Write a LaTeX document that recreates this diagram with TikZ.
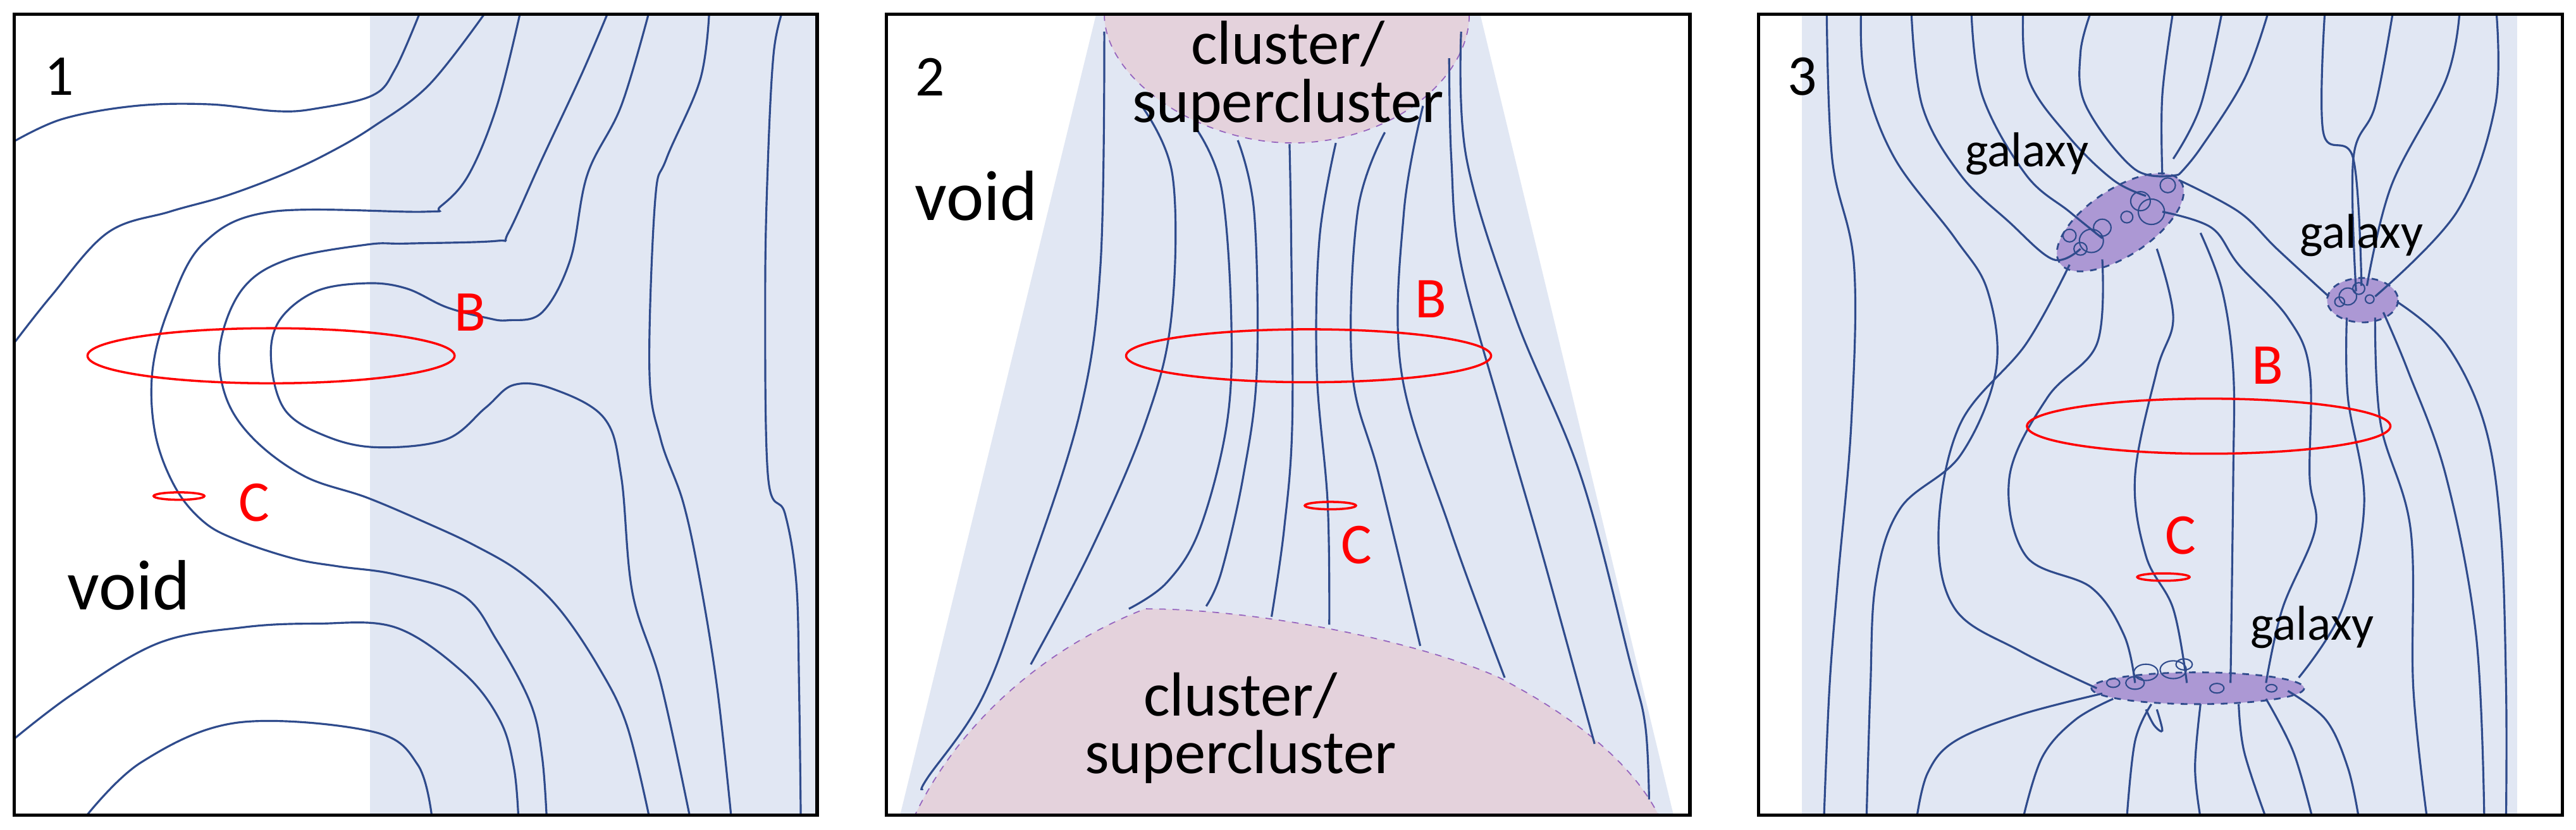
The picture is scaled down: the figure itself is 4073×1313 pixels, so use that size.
\documentclass[tikz,border=0pt]{standalone}
\usepackage{fontspec}
\setmainfont{Carlito}
\begin{document}
\begin{tikzpicture}[x=0.01cm,y=-0.01cm,
  fl/.style={draw=lineblue,line width=0.9pt},
  ring/.style={draw=red,line width=1pt},
  frame/.style={draw=black,line width=1.5pt},
  num/.style={font=\fontsize{26}{28}\selectfont},
  lab/.style={font=\fontsize{26}{28}\selectfont,text=red},
  big/.style={font=\fontsize{32}{34}\selectfont},
  clus/.style={font=\fontsize{28}{26}\selectfont,align=center},
  gal/.style={font=\fontsize{22}{24}\selectfont},
  cl/.style={fill=clusterpink,draw=dashpurple,dashed,line width=0.5pt},
  gx/.style={fill=galpurple,draw=lineblue,dashed,line width=0.8pt},
  tg/.style={draw=lineblue,line width=0.6pt}]
\definecolor{lineblue}{RGB}{47,75,140}
\definecolor{bgshade}{RGB}{225,231,243}
\definecolor{clusterpink}{RGB}{228,210,220}
\definecolor{dashpurple}{RGB}{150,100,190}
\definecolor{galpurple}{RGB}{172,152,212}
\useasboundingbox (0,0) rectangle (4073,1313);
\fill[white] (0,0) rectangle (4073,1313);
% ---------- panel 1
\begin{scope}[xscale=0.8929,yscale=0.8375]
\begin{scope}
\clip (25,27) rectangle (1447,1540);
\fill[bgshade] (655,27) rectangle (1447,1540);
\draw[fl] plot[smooth,tension=0.6] coordinates {(20,270)(110,225)(240,200)(370,197)(490,210)(560,205)(660,180)(700,130)(745,20)};
\draw[fl] plot[smooth,tension=0.6] coordinates {(20,655)(90,560)(190,440)(300,400)(400,370)(500,330)(580,290)(660,240)(760,160)(862,20)};
\draw[fl] plot[smooth,tension=0.6] coordinates {(922,20)(880,200)(830,330)(780,390)(750,400)(480,400)(360,460)(300,580)(270,700)(275,820)(310,920)(360,985)(420,1020)(520,1055)(600,1070)(700,1085)(820,1125)(880,1210)(940,1330)(960,1430)(968,1545)};
\draw[fl] plot[smooth,tension=0.6] coordinates {(1078,20)(1030,140)(960,300)(900,440)(880,455)(720,460)(650,462)(510,490)(430,545)(390,650)(400,750)(450,830)(540,900)(650,940)(760,990)(840,1030)(920,1080)(990,1150)(1060,1260)(1110,1370)(1150,1545)};
\draw[fl] plot[smooth,tension=0.6] coordinates {(1150,20)(1100,200)(1040,330)(1010,490)(960,590)(900,605)(860,600)(790,580)(720,545)(650,535)(560,550)(495,605)(480,680)(505,775)(580,825)(670,845)(790,830)(860,770)(910,727)(980,735)(1070,790)(1100,900)(1120,1120)(1170,1290)(1222,1545)};
\draw[fl] plot[smooth,tension=0.6] coordinates {(1256,20)(1240,150)(1180,300)(1160,380)(1150,700)(1170,830)(1210,950)(1240,1100)(1270,1300)(1295,1545)};
\draw[fl] plot[smooth,tension=0.6] coordinates {(1386,20)(1370,100)(1360,300)(1355,550)(1360,900)(1390,970)(1410,1100)(1415,1300)(1418,1545)};
\draw[fl] plot[smooth,tension=0.6] coordinates {(20,1400)(130,1310)(280,1215)(430,1185)(560,1178)(700,1185)(820,1270)(885,1360)(910,1450)(918,1545)};
\draw[fl] plot[smooth,tension=0.6] coordinates {(150,1545)(250,1440)(420,1365)(660,1382)(740,1445)(765,1545)};
\end{scope}
\draw[ring] (480,672) ellipse [x radius=325,y radius=52];
\draw[ring] (317,937) ellipse [x radius=45,y radius=7];
\node[lab] (B1) at (833,590) {B};
\node[lab] (C1) at (450,950) {C};
\node[big] (V1) at (228,1105) {void};
\node[num] (N1) at (105,145) {1};
\draw[frame] (25,27) rectangle (1447,1540);
\end{scope}
% ---------- panel 2
\begin{scope}[shift={(1380,0)},xscale=0.8613,yscale=0.8375]
\begin{scope}
\clip (25,27) rectangle (1500,1540);
\fill[bgshade] (410,27) -- (1115,27) -- (1470,1540) -- (50,1540) -- cycle;
\path[cl] (425,27) .. controls (425,150) and (600,270) .. (770,270) .. controls (950,270) and (1095,150) .. (1095,27);
\path[cl] (75,1545) .. controls (150,1380) and (300,1230) .. (500,1150) .. controls (700,1150) and (1000,1210) .. (1150,1280) .. controls (1300,1360) and (1400,1450) .. (1445,1545);
\draw[fl] plot[smooth,tension=0.6] coordinates {(425,60)(418,500)(380,780)(280,1100)(200,1320)(100,1470)(92,1490)};
\draw[fl] plot[smooth,tension=0.6] coordinates {(490,195)(550,330)(548,600)(500,800)(400,1040)(290,1255)};
\draw[fl] plot[smooth,tension=0.6] coordinates {(595,245)(640,355)(658,600)(650,800)(600,1000)(540,1100)(470,1150)};
\draw[fl] plot[smooth,tension=0.6] coordinates {(670,265)(700,400)(705,700)(680,900)(640,1080)(612,1145)};
\draw[fl] plot[smooth,tension=0.6] coordinates {(765,272)(768,450)(770,800)(755,1000)(732,1165)};
\draw[fl] plot[smooth,tension=0.6] coordinates {(850,270)(820,450)(815,700)(835,950)(838,1180)};
\draw[fl] plot[smooth,tension=0.6] coordinates {(940,250)(890,400)(880,700)(930,900)(1005,1220)};
\draw[fl] plot[smooth,tension=0.6] coordinates {(1010,200)(975,400)(970,700)(1060,1000)(1160,1280)};
\draw[fl] plot[smooth,tension=0.6] coordinates {(1058,110)(1062,300)(1080,500)(1160,800)(1230,1050)(1325,1405)};
\draw[fl] plot[smooth,tension=0.6] coordinates {(1080,60)(1090,300)(1180,600)(1300,900)(1390,1250)(1418,1370)(1425,1510)};
\end{scope}
\draw[ring] (800,672) ellipse [x radius=335,y radius=50];
\draw[ring] (840,955) ellipse [x radius=47,y radius=7];
\node[lab] (B2) at (1025,565) {B};
\node[lab] (C2) at (888,1030) {C};
\node[big] (V2) at (190,370) {void};
\node[num] (N2) at (105,145) {2};
\node[clus] (T2) at (762,145) {cluster/\\supercluster};
\node[clus] (U2) at (675,1375) {cluster/\\supercluster};
\draw[frame] (25,27) rectangle (1500,1540);
\end{scope}
% ---------- panel 3
\begin{scope}[shift={(2720,0)},xscale=0.8628,yscale=0.8375]
\begin{scope}
\clip (70,27) rectangle (1543,1540);
\fill[bgshade] (150,27) rectangle (1460,1540);
\draw[gx,rotate around={35:(733,420)}] (733,420) ellipse [x radius=135,y radius=62];
\draw[gx] (1177,567) ellipse [x radius=65,y radius=42];
\draw[gx] (875,1300) ellipse [x radius=195,y radius=30];
\draw[fl] plot[smooth,tension=0.6] coordinates {(195,20)(205,300)(245,500)(240,800)(215,1100)(200,1300)(190,1545)};
\draw[fl] plot[smooth,tension=0.6] coordinates {(258,20)(265,150)(320,300)(430,450)(490,550)(505,700)(440,860)(330,960)(285,1100)(275,1300)(268,1545)};
\draw[fl] plot[smooth,tension=0.6] coordinates {(350,20)(370,200)(440,330)(530,420)(610,490)(660,470)};
\draw[fl] plot[smooth,tension=0.6] coordinates {(460,20)(480,180)(560,330)(640,400)(700,450)};
\draw[fl] plot[smooth,tension=0.6] coordinates {(555,20)(565,150)(640,260)(720,340)(780,370)};
\draw[fl] plot[smooth,tension=0.6] coordinates {(680,20)(660,100)(670,200)(760,320)(840,330)};
\draw[fl] plot[smooth,tension=0.6] coordinates {(830,20)(810,180)(810,330)};
\draw[fl] plot[smooth,tension=0.6] coordinates {(920,20)(880,200)(830,300)};
\draw[fl] plot[smooth,tension=0.6] coordinates {(1005,20)(960,150)(880,280)(840,330)};
\draw[fl] plot[smooth,tension=0.6] coordinates {(1108,20)(1105,250)(1160,300)(1175,540)};
\draw[fl] plot[smooth,tension=0.6] coordinates {(1233,20)(1200,200)(1160,300)(1165,550)};
\draw[fl] plot[smooth,tension=0.6] coordinates {(1355,20)(1330,150)(1230,350)(1185,540)};
\draw[fl] plot[smooth,tension=0.6] coordinates {(1422,20)(1420,200)(1350,400)(1200,560)};
\draw[fl] plot[smooth,tension=0.6] coordinates {(1240,570)(1330,650)(1400,800)(1430,1000)(1440,1300)(1440,1545)};
\draw[fl] plot[smooth,tension=0.6] coordinates {(1215,590)(1260,700)(1330,900)(1385,1200)(1400,1545)};
\draw[fl] plot[smooth,tension=0.6] coordinates {(1200,600)(1210,800)(1265,1000)(1270,1300)(1295,1545)};
\draw[fl] plot[smooth,tension=0.6] coordinates {(1148,600)(1150,750)(1180,950)(1140,1150)(1060,1280)};
\draw[fl] plot[smooth,tension=0.6] coordinates {(840,340)(950,400)(1020,470)(1115,560)};
\draw[fl] plot[smooth,tension=0.6] coordinates {(810,400)(900,430)(950,500)(1040,600)(1080,700)(1080,900)(1090,1000)(1030,1150)(1000,1290)};
\draw[fl] plot[smooth,tension=0.6] coordinates {(800,470)(830,600)(800,700)(760,900)(780,1050)(830,1150)(855,1290)};
\draw[fl] plot[smooth,tension=0.6] coordinates {(880,440)(920,550)(940,700)(940,900)(935,1290)};
\draw[fl] plot[smooth,tension=0.6] coordinates {(700,490)(690,650)(600,750)(530,900)(560,1050)(680,1110)(740,1200)(760,1290)};
\draw[fl] plot[smooth,tension=0.6] coordinates {(640,500)(560,650)(440,800)(400,1000)(430,1150)(550,1230)(690,1300)};
\draw[fl] plot[smooth,tension=0.6] coordinates {(700,1310)(550,1350)(430,1400)(380,1460)(360,1545)};
\draw[fl] plot[smooth,tension=0.6] coordinates {(720,1320)(650,1360)(590,1430)(555,1545)};
\draw[fl] plot[smooth,tension=0.6] coordinates {(790,1330)(760,1400)(745,1545)};
\draw[fl] plot[smooth,tension=0.6] coordinates {(880,1330)(870,1450)(880,1545)};
\draw[fl] plot[smooth,tension=0.6] coordinates {(950,1330)(960,1420)(1000,1545)};
\draw[fl] plot[smooth,tension=0.6] coordinates {(1000,1320)(1050,1420)(1085,1545)};
\draw[fl] plot[smooth,tension=0.6] coordinates {(1040,1305)(1110,1360)(1150,1450)(1170,1545)};
\draw[fl] plot[smooth,tension=0.6] coordinates {(800,1340)(810,1380)(795,1370)(780,1340)};
% tangles
\foreach \x/\y/\r in {680/455/22,700/430/16,660/470/12,790/400/24,770/380/18,820/350/14,640/445/12,745/410/11}
  \draw[tg] (\x,\y) circle (\r);
\foreach \x/\y/\r in {1150/560/16,1170/545/11,1135/570/9,1190/565/8}
  \draw[tg] (\x,\y) circle (\r);
\foreach \x/\y/\r in {780/1270/22,830/1265/24,760/1290/17,910/1300/13,1010/1300/10,720/1290/12,850/1255/15}
  \draw[tg] (\x,\y) ellipse [x radius=\r,y radius=0.7*\r];
\end{scope}
\draw[ring] (895,805) ellipse [x radius=333,y radius=52];
\draw[ring] (812,1090) ellipse [x radius=48,y radius=7];
\node[lab] (B3) at (1003,690) {B};
\node[lab] (C3) at (843,1012) {C};
\node[num] (N3) at (150,145) {3};
\node[gal] (G1) at (562,290) {galaxy};
\node[gal] (G2) at (1175,445) {galaxy};
\node[gal] (G3) at (1085,1185) {galaxy};
\draw[frame] (70,27) rectangle (1543,1540);
\end{scope}
\end{tikzpicture}
\end{document}
